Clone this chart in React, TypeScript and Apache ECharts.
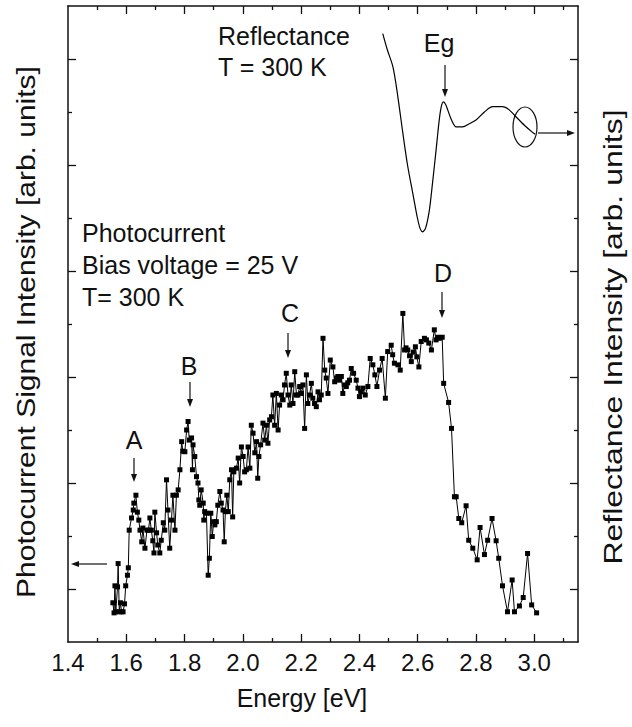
import React, { useEffect, useRef } from "react";
import * as echarts from "echarts";

// Photocurrent spectrum (left axis, arb. units)
const pcEnergy = [1.554,1.558,1.561,1.564,1.570,1.572,1.576,1.580,1.584,1.589,1.594,1.598,1.604,1.607,1.610,1.618,1.624,1.626,1.633,1.638,1.643,1.647,1.653,1.657,1.664,1.671,1.676,1.681,1.686,1.691,1.695,1.698,1.704,1.708,1.715,1.720,1.727,1.732,1.738,1.743,1.749,1.755,1.760,1.767,1.772,1.778,1.784,1.790,1.794,1.801,1.807,1.812,1.816,1.824,1.827,1.829,1.835,1.841,1.846,1.849,1.852,1.857,1.864,1.866,1.869,1.875,1.881,1.885,1.890,1.895,1.900,1.904,1.909,1.914,1.921,1.926,1.932,1.936,1.940,1.945,1.950,1.955,1.961,1.965,1.969,1.978,1.984,1.989,1.995,2.001,2.006,2.012,2.018,2.024,2.029,2.035,2.041,2.047,2.051,2.055,2.061,2.069,2.075,2.081,2.086,2.092,2.098,2.103,2.109,2.115,2.121,2.126,2.132,2.138,2.143,2.149,2.155,2.161,2.166,2.172,2.178,2.184,2.189,2.195,2.201,2.206,2.212,2.218,2.223,2.229,2.235,2.240,2.246,2.252,2.258,2.263,2.269,2.275,2.281,2.286,2.292,2.300,2.309,2.315,2.321,2.326,2.332,2.338,2.343,2.349,2.355,2.360,2.366,2.372,2.380,2.389,2.395,2.400,2.406,2.412,2.420,2.429,2.437,2.446,2.453,2.460,2.469,2.478,2.489,2.497,2.509,2.514,2.520,2.532,2.540,2.549,2.555,2.560,2.566,2.572,2.578,2.585,2.592,2.597,2.604,2.612,2.623,2.630,2.638,2.647,2.657,2.663,2.669,2.674,2.684,2.689,2.706,2.716,2.726,2.732,2.741,2.751,2.766,2.775,2.789,2.804,2.814,2.829,2.840,2.855,2.869,2.878,2.891,2.908,2.924,2.932,2.949,2.962,2.977,2.991,3.008];
const pcIntensity = [0.74,0.55,1.06,0.57,1.04,1.48,0.57,0.74,0.57,0.57,0.72,1.06,1.26,1.40,2.11,2.34,2.49,2.62,2.77,2.45,2.30,2.11,1.89,2.15,1.77,2.11,2.11,2.34,2.11,1.91,1.68,2.45,2.06,1.83,1.68,1.92,2.25,2.11,3.06,2.49,1.77,2.30,2.77,2.11,2.77,2.87,3.25,3.78,3.60,3.59,4.00,4.16,3.81,3.85,3.25,3.72,3.50,3.12,3.00,2.68,2.58,2.87,2.62,2.30,2.46,2.43,1.26,1.58,2.43,1.99,2.27,2.21,2.27,2.58,2.84,2.62,2.49,1.89,2.46,2.77,2.46,3.06,3.25,2.36,3.21,3.28,3.47,3.00,3.68,3.50,3.21,3.25,3.68,3.28,4.09,3.94,3.57,3.78,3.09,3.50,3.72,4.13,3.81,4.09,3.75,4.19,4.25,4.66,4.09,4.69,4.00,4.47,4.66,4.57,4.85,5.07,4.66,4.47,4.85,4.50,5.10,4.66,4.66,4.82,4.69,4.85,4.03,5.04,4.50,4.66,4.88,4.60,4.50,4.44,4.72,4.57,4.66,5.73,5.13,4.98,4.69,5.32,5.19,4.91,4.98,5.01,4.94,5.01,4.69,4.85,4.82,4.89,4.94,5.16,5.07,4.94,4.79,4.63,4.72,4.79,4.66,4.82,5.35,5.23,5.04,4.82,5.13,5.35,4.60,5.48,5.60,5.42,5.26,5.23,5.13,6.20,5.51,5.55,5.51,5.40,5.29,5.47,5.57,5.38,5.19,5.67,5.73,5.70,5.64,5.51,5.89,5.70,5.75,5.73,5.75,4.88,4.52,4.03,2.74,2.74,2.33,2.25,2.57,1.92,1.77,1.55,2.16,1.65,1.92,2.33,1.91,1.58,1.06,0.57,1.17,0.57,0.68,0.84,1.67,0.70,0.55];

// Reflectance spectrum (right axis, arb. units)
const reflEnergy = [2.480,2.496,2.515,2.531,2.549,2.565,2.583,2.599,2.609,2.617,2.627,2.640,2.652,2.663,2.673,2.680,2.688,2.695,2.703,2.716,2.732,2.754,2.777,2.800,2.829,2.857,2.891,2.914,2.937,2.966,2.993,3.003];
const reflIntensity = [11.48,11.17,10.85,10.32,9.60,9.00,8.47,8.00,7.79,7.74,7.81,8.15,8.72,9.28,9.81,10.08,10.19,10.15,10.04,9.85,9.72,9.72,9.78,9.85,10.00,10.10,10.10,10.04,9.91,9.75,9.62,9.58];

// Axis ticks and labels
const xTickLabels = [1.4, 1.6, 1.8, 2.0, 2.2, 2.4, 2.6, 2.8, 3.0];
const xMajorTicks = [1.6, 1.8, 2.0, 2.2, 2.4, 2.6, 2.8, 3.0];
const xMinorTicks = [1.5, 1.7, 1.9, 2.1, 2.3, 2.5, 2.7, 2.9, 3.1];
const yMajorTicks = [1, 3, 5, 7, 9, 11];
const yMinorTicks = [2, 4, 6, 8, 10];

const FONT = "'Liberation Sans', Arial, Helvetica, sans-serif";
const INK = "#111";

function zip(xs: number[], ys: number[]) {
  const n = Math.min(xs.length, ys.length);
  const out: number[][] = [];
  for (let i = 0; i < n; i++) out.push([xs[i], ys[i]]);
  return out;
}

function txt(text: string, x: number, y: number, align = "left", size = 25) {
  return {
    type: "text",
    x,
    y,
    style: { text, fill: INK, fontSize: size, fontFamily: FONT, align, verticalAlign: "middle" },
  };
}

function arrow(x1: number, y1: number, x2: number, y2: number) {
  const dx = x2 - x1, dy = y2 - y1;
  const len = Math.sqrt(dx * dx + dy * dy);
  const ux = dx / len, uy = dy / len;
  const nx = -uy, ny = ux;
  const hl = 8, hw = 3;
  return {
    type: "group",
    children: [
      { type: "line", shape: { x1, y1, x2: x2 - ux * 5, y2: y2 - uy * 5 }, style: { stroke: INK, lineWidth: 1.2 } },
      {
        type: "polygon",
        shape: {
          points: [
            [x2, y2],
            [x2 - ux * hl + nx * hw, y2 - uy * hl + ny * hw],
            [x2 - ux * hl - nx * hw, y2 - uy * hl - ny * hw],
          ],
        },
        style: { fill: INK },
      },
    ],
  };
}

function xAxisDef(position: string, ticks: number[], len: number, withLine: boolean, withLabels: boolean) {
  return {
    type: "value",
    position,
    min: 1.4,
    max: 3.15,
    axisLine: { show: withLine, onZero: false, lineStyle: { color: INK, width: 1.5 } },
    axisTick: { show: true, inside: true, length: len, customValues: ticks, lineStyle: { color: INK, width: 1.3 } },
    axisLabel: withLabels
      ? { show: true, customValues: xTickLabels, formatter: (v: number) => v.toFixed(1), fontSize: 24, color: INK, fontFamily: FONT, margin: 8 }
      : { show: false },
    splitLine: { show: false },
  };
}

function yAxisDef(position: string, ticks: number[], len: number, withLine: boolean) {
  return {
    type: "value",
    position,
    min: 0,
    max: 12,
    axisLine: { show: withLine, onZero: false, lineStyle: { color: INK, width: 1.5 } },
    axisTick: { show: true, inside: true, length: len, customValues: ticks, lineStyle: { color: INK, width: 1.3 } },
    axisLabel: { show: false },
    splitLine: { show: false },
  };
}

export default function App() {
  const ref = useRef<HTMLDivElement>(null);
  useEffect(() => {
    if (!ref.current) return;
    const chart = echarts.init(ref.current, null, { renderer: "svg" });
    const option = {
      animation: false,
      backgroundColor: "#fff",
      grid: { left: 68, right: 54, top: 6, bottom: 85, containLabel: false },
      xAxis: [
        xAxisDef("bottom", xMajorTicks, 8, true, true),
        xAxisDef("top", xMajorTicks, 8, true, false),
        xAxisDef("bottom", xMinorTicks, 4, false, false),
        xAxisDef("top", xMinorTicks, 4, false, false),
      ],
      yAxis: [
        yAxisDef("left", yMajorTicks, 8, true),
        yAxisDef("right", yMajorTicks, 8, true),
        yAxisDef("left", yMinorTicks, 4, false),
        yAxisDef("right", yMinorTicks, 4, false),
      ],
      series: [
        {
          name: "Photocurrent",
          type: "line",
          xAxisIndex: 0,
          yAxisIndex: 0,
          data: zip(pcEnergy, pcIntensity),
          symbol: "rect",
          symbolSize: 5,
          showAllSymbol: true,
          lineStyle: { color: "#000", width: 1 },
          itemStyle: { color: "#000" },
          z: 3,
        },
        {
          name: "Reflectance",
          type: "line",
          xAxisIndex: 0,
          yAxisIndex: 1,
          data: zip(reflEnergy, reflIntensity),
          symbol: "none",
          smooth: 0.3,
          lineStyle: { color: "#000", width: 1.2 },
          z: 3,
        },
      ],
      graphic: [
        txt("Reflectance", 218, 36),
        txt("T = 300 K", 218, 67),
        txt("Eg", 439, 43, "center"),
        txt("Photocurrent", 82, 233),
        txt("Bias voltage = 25 V", 82, 265),
        txt("T= 300 K", 82, 297),
        txt("A", 134, 440, "center"),
        txt("B", 189, 366, "center"),
        txt("C", 290, 313, "center"),
        txt("D", 443, 273, "center"),
        arrow(445, 65, 445, 97),
        arrow(134, 458, 134, 482),
        arrow(190, 382, 190, 407),
        arrow(288, 333, 288, 358),
        arrow(442, 292, 442, 318),
        arrow(107, 564, 71, 564),
        arrow(538, 133, 575, 133),
        {
          type: "ellipse",
          shape: { cx: 525, cy: 127, rx: 12, ry: 20 },
          style: { fill: "none", stroke: INK, lineWidth: 1.2 },
        },
        txt("Energy [eV]", 302, 698, "center", 25),
        {
          type: "text",
          x: 26,
          y: 332,
          rotation: Math.PI / 2,
          scaleX: 1.2,
          style: { text: "Photocurrent Signal Intensity [arb. units]", fill: INK, fontSize: 25, fontFamily: FONT, align: "center", verticalAlign: "middle" },
        },
        {
          type: "text",
          x: 613,
          y: 337,
          rotation: Math.PI / 2,
          scaleX: 1.28,
          style: { text: "Reflectance Intensity [arb. units]", fill: INK, fontSize: 25, fontFamily: FONT, align: "center", verticalAlign: "middle" },
        },
      ],
    };
    chart.setOption(option as any);
    return () => chart.dispose();
  }, []);
  return <div ref={ref} style={{ position: "absolute", left: 0, top: 0, width: 632, height: 727 }} />;
}
